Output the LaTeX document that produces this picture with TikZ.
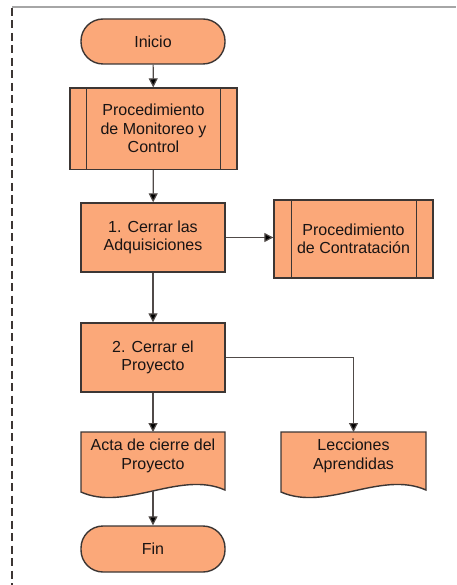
\documentclass[tikz,border=0pt]{standalone}
\usepackage{fontspec}
\setmainfont{Liberation Sans}
\usetikzlibrary{arrows.meta}
\definecolor{boxfill}{RGB}{251,168,121}
\definecolor{edge}{RGB}{60,54,52}
\definecolor{txt}{RGB}{25,20,20}
\begin{document}
\begin{tikzpicture}[x=1pt,y=-1pt,
  every node/.style={font=\fontsize{16}{18.5}\selectfont, text=txt, align=center, inner sep=0pt},
  shapeline/.style={draw=edge, line width=1.4pt, fill=boxfill},
  terminal/.style={shapeline, rectangle, rounded corners=22pt, minimum width=144pt},
  procbox/.style={shapeline, rectangle, minimum width=144pt, minimum height=69pt},
  subproc/.style={shapeline, rectangle},
  innerline/.style={draw=edge, line width=1.4pt},
  doctext/.style={draw=none},
  conn/.style={draw=edge!90!white, line width=1.2pt, -{Triangle[length=9pt,width=9pt,fill=black]}}
]
\useasboundingbox (0,0) rectangle (456,585);
% frame
\draw[gray!70, line width=2pt] (12,7) -- (456,7);
\draw[edge, line width=1.2pt, dash pattern=on 8pt off 4.5pt] (12,8) -- (12,585);

% nodes
\node[terminal, minimum height=45pt] (inicio) at (153,41.5) {Inicio};
\node[subproc, minimum width=167pt, minimum height=81.5pt] (mon) at (153.5,128.75) {Procedimiento\\de Monitoreo y\\Control};
\draw[innerline] ([xshift=17pt]mon.north west) -- ([xshift=17pt]mon.south west)
  ([xshift=-17pt]mon.north east) -- ([xshift=-17pt]mon.south east);
\node[procbox] (c1) at (153,237.5) {1. Cerrar las\\Adquisiciones};
\node[subproc, minimum width=159pt, minimum height=78pt] (cont) at (353.5,239) {Procedimiento\\de Contratación};
\draw[innerline] ([xshift=18pt]cont.north west) -- ([xshift=18pt]cont.south west)
  ([xshift=-17pt]cont.north east) -- ([xshift=-17pt]cont.south east);
\node[procbox] (c2) at (153,357.5) {2. Cerrar el\\Proyecto};

% documents
\filldraw[shapeline] (81,432) -- (225,432) -- (225,490) .. controls (180,470) and (125,512) .. (81,492) -- cycle;
\node[doctext] (acta) at (153,456) {Acta de cierre del\\Proyecto};
\coordinate (actab) at (153,491);
\coordinate (actat) at (153,432);
\filldraw[shapeline] (281,432) -- (426,432) -- (426,490) .. controls (381,470) and (326,512) .. (281,492) -- cycle;
\node[doctext] (lecc) at (353.5,456) {Lecciones\\Aprendidas};
\coordinate (lecct) at (353.5,432);

\node[terminal, minimum height=46pt] (fin) at (153,549) {Fin};

% connectors
\draw[conn] (inicio) -- (mon);
\draw[conn] (mon) -- (c1);
\draw[conn] (c1.east) -- (c1.east -| cont.west);
\draw[conn] (c1) -- (c2);
\draw[conn] (c2.south) -- (actat);
\draw[conn] (c2.east) -| (lecct);
\draw[conn] (actab) -- (fin.north);
\end{tikzpicture}
\end{document}
